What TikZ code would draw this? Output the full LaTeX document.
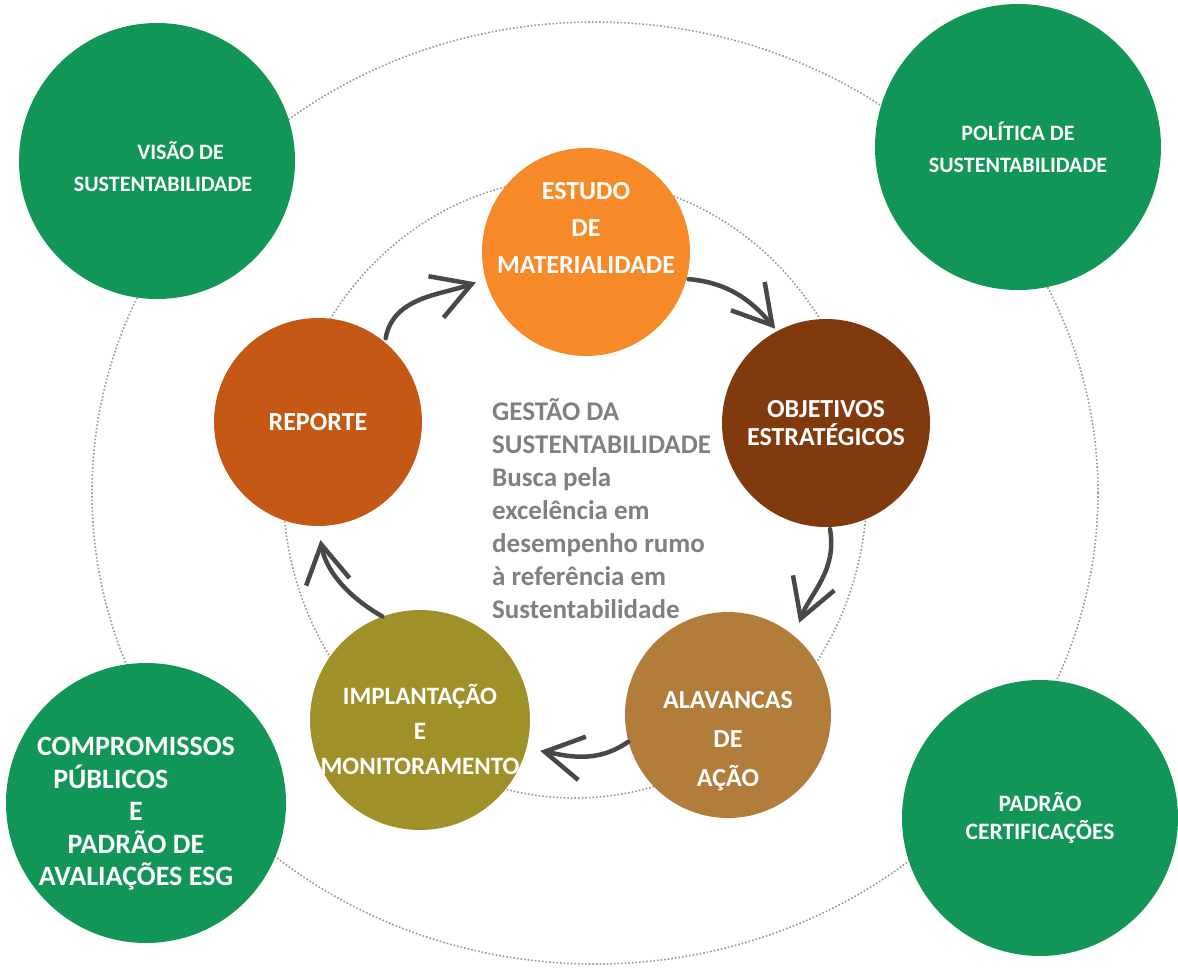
\documentclass[tikz,border=0pt]{standalone}
\usepackage{fontspec}
\setmainfont{Carlito}
\usetikzlibrary{arrows.meta}
\definecolor{verde}{RGB}{18,150,88}
\definecolor{laranja}{RGB}{246,138,40}
\definecolor{marrom}{RGB}{128,58,14}
\definecolor{caramelo}{RGB}{178,124,58}
\definecolor{oliva}{RGB}{160,144,42}
\definecolor{ferrugem}{RGB}{196,88,20}
\definecolor{cinza}{RGB}{128,128,128}
\definecolor{grafite}{RGB}{72,72,72}
\tikzset{
  meta/.style={circle, fill=verde, text=white, inner sep=0pt, align=center,
    font=\bfseries\fontsize{22}{32}\selectfont},
  etapa/.style={circle, text=white, inner sep=0pt, align=center, minimum size=208pt,
    font=\bfseries\fontsize{26}{28}\selectfont},
  rotulo/.style={text=white, inner sep=0pt, align=center,
    font=\bfseries\fontsize{26}{28}\selectfont},
  seta/.style={draw=grafite, line width=4.5pt, line cap=round,
    -{Straight Barb[length=38pt,width=44pt]}},
  orbita/.style={draw=cinza!80, dotted, line width=1.6pt}
}
\begin{document}
\begin{tikzpicture}[x=1pt, y=1pt]
  \useasboundingbox (0,0) rectangle (1178,-967);
  % orbits
  \draw[orbita] (595,-493) ellipse [x radius=503, y radius=471];
  \draw[orbita] (575,-488) ellipse [x radius=292, y radius=310];
  % outer pillars
  \node[meta, minimum size=276pt] (visao) at (157,-161) {};
  \node[rotulo, font=\bfseries\fontsize{22}{32}\selectfont] (visao-txt) at ([xshift=6pt, yshift=-6pt]visao.center)
    {\mbox{}\hspace*{1.6em}VISÃO DE\\SUSTENTABILIDADE};
  \node[meta, minimum size=286pt] (politica) at (1018,-147) {POLÍTICA DE\\SUSTENTABILIDADE};
  \node[meta, minimum size=280pt] (compromissos) at (146,-803) {};
  \node[rotulo, font=\bfseries\fontsize{28}{32.5}\selectfont] (compromissos-txt) at ([xshift=-10pt, yshift=-11pt]compromissos.center)
    {COMPROMISSOS\\PÚBLICOS\hspace*{1.8em}\mbox{}\\E\\PADRÃO DE\\AVALIAÇÕES ESG};
  \node[meta, minimum size=276pt, font=\bfseries\fontsize{23.5}{32}\selectfont] (padrao) at (1040,-818)
    {PADRÃO\\[-4pt]CERTIFICAÇÕES};
  % cycle
  \node[etapa, fill=laranja] (estudo) at (586,-252) {};
  \node[rotulo] (estudo-txt) at ([yshift=24pt]estudo.center) {ESTUDO\\[9pt]DE\\[9pt]MATERIALIDADE};
  \node[etapa, fill=marrom] (objetivos) at (826,-423) {OBJETIVOS\\ESTRATÉGICOS};
  \node[etapa, fill=caramelo, minimum size=206pt] (alavancas) at (728,-715) {};
  \node[rotulo] (alavancas-txt) at ([yshift=-26pt]alavancas.center) {ALAVANCAS\\[11pt]DE\\[11pt]AÇÃO};
  \node[etapa, fill=oliva, minimum size=220pt] (implantacao) at (420,-720) {};
  \node[rotulo, font=\bfseries\fontsize{25}{27}\selectfont] (implantacao-txt) at ([yshift=-9pt]implantacao.center)
    {IMPLANTAÇÃO\\[8pt]E\\[8pt]MONITORAMENTO};
  \node[etapa, fill=ferrugem] (reporte) at (318,-422) {REPORTE};
  % center
  \node[anchor=north west, align=left, text=cinza, inner sep=0pt,
    font=\bfseries\fontsize{27}{33}\selectfont] (gestao) at (492,-398)
    {GESTÃO DA\\SUSTENTABILIDADE\\Busca pela\\excelência em\\desempenho rumo\\à referência em\\Sustentabilidade};
  % arrows
  \draw[seta, shorten <=4pt, shorten >=10pt] (reporte.50) to[out=80, in=200] (estudo.195);
  \draw[seta, shorten <=2pt, shorten >=3pt] (estudo.-15) to[out=-5, in=130] (objetivos.118);
  \draw[seta, shorten <=2pt, shorten >=14pt] (objetivos.-88) to[out=-80, in=70] (alavancas.50);
  \draw[seta, shorten <=0pt, shorten >=14pt] (alavancas.195) to[out=215, in=-10] (implantacao.-15);
  \draw[seta, shorten <=0pt, shorten >=14pt] (implantacao.110) to[out=150, in=-80] (reporte.-90);
\end{tikzpicture}
\end{document}
